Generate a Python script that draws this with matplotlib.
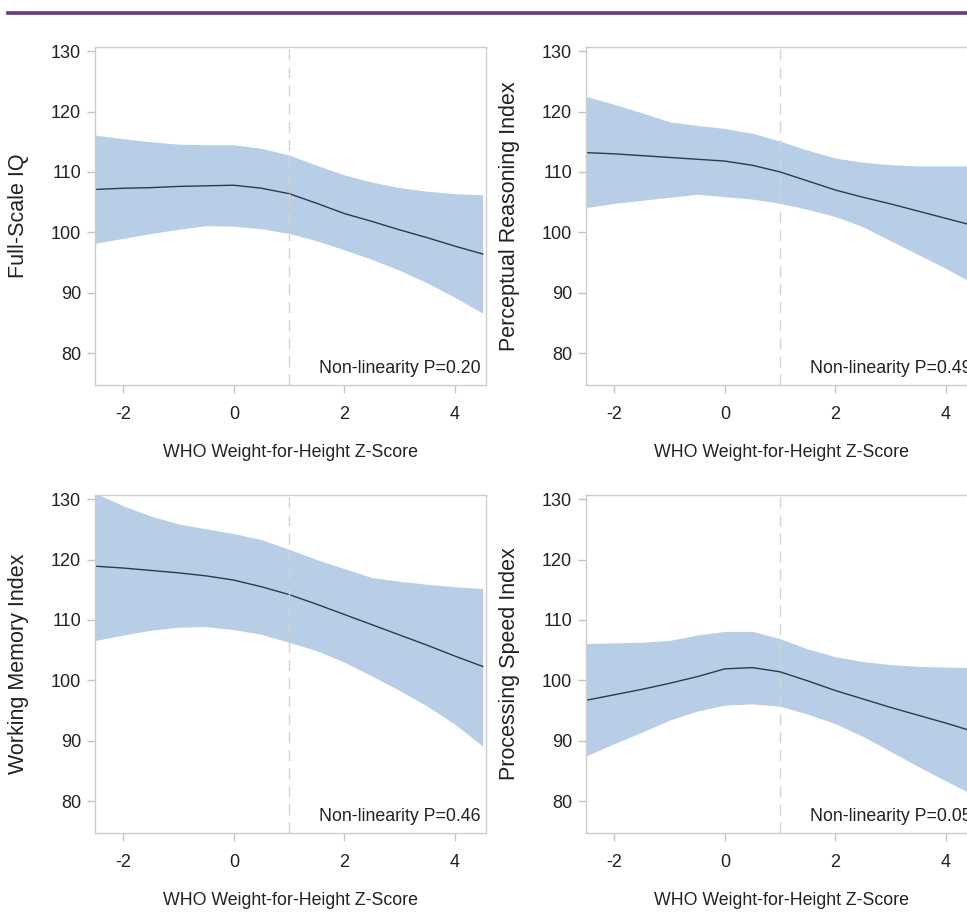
import matplotlib
matplotlib.use('Agg')
import matplotlib.pyplot as plt
from matplotlib.lines import Line2D

plt.rcParams['font.family'] = ['Liberation Sans', 'DejaVu Sans']
plt.rcParams['axes.unicode_minus'] = False

# WHO weight-for-height z-score grid
z = [-2.5, -2, -1.5, -1, -0.5, 0, 0.5, 1, 1.5, 2, 2.5, 3, 3.5, 4, 4.5]

fsiq_est = [107.1, 107.3, 107.4, 107.6, 107.7, 107.8, 107.3, 106.4, 104.8, 103.1, 101.8, 100.4, 99.1, 97.7, 96.4]
fsiq_hi = [116.1, 115.5, 115.0, 114.6, 114.5, 114.5, 113.9, 112.8, 111.1, 109.5, 108.3, 107.4, 106.8, 106.4, 106.2]
fsiq_lo = [98.2, 99.0, 99.8, 100.5, 101.1, 101.0, 100.6, 99.8, 98.6, 97.1, 95.5, 93.7, 91.6, 89.2, 86.6]

pri_est = [113.2, 113.0, 112.7, 112.4, 112.1, 111.8, 111.1, 110.0, 108.5, 107.0, 105.8, 104.7, 103.5, 102.3, 101.1]
pri_hi = [122.5, 121.2, 119.8, 118.3, 117.7, 117.2, 116.4, 115.1, 113.6, 112.3, 111.6, 111.2, 111.0, 111.0, 111.0]
pri_lo = [104.1, 104.8, 105.3, 105.8, 106.3, 105.9, 105.5, 104.8, 103.8, 102.6, 100.9, 98.6, 96.3, 94.0, 91.5]

wmi_est = [118.9, 118.6, 118.2, 117.8, 117.3, 116.6, 115.5, 114.2, 112.6, 110.9, 109.2, 107.5, 105.8, 104.0, 102.3]
wmi_hi = [131.0, 128.9, 127.2, 125.9, 125.1, 124.3, 123.3, 121.7, 120.0, 118.5, 117.0, 116.4, 115.9, 115.5, 115.2]
wmi_lo = [106.6, 107.5, 108.3, 108.8, 108.9, 108.4, 107.6, 106.3, 104.9, 103.0, 100.7, 98.3, 95.7, 92.7, 89.1]

psi_est = [96.7, 97.6, 98.5, 99.5, 100.6, 101.9, 102.1, 101.4, 99.9, 98.3, 96.9, 95.5, 94.2, 92.9, 91.5]
psi_hi = [106.1, 106.2, 106.3, 106.6, 107.5, 108.1, 108.1, 106.9, 105.2, 103.9, 103.1, 102.6, 102.3, 102.2, 102.1]
psi_lo = [87.5, 89.5, 91.4, 93.4, 94.9, 95.9, 96.1, 95.7, 94.4, 92.8, 90.7, 88.2, 85.7, 83.3, 81.0]

ylabels = ['Full-Scale IQ', 'Perceptual Reasoning Index', 'Working Memory Index', 'Processing Speed Index']
pvalues = ['0.20', '0.49', '0.46', '0.05']
xlabel = 'WHO Weight-for-Height Z-Score'

W, H = 967, 913
fig = plt.figure(figsize=(W / 100, H / 100), dpi=100)

# purple rule at the top
fig.add_artist(Line2D([8 / W, 1.0], [1 - 13.5 / H, 1 - 13.5 / H], color='#643a7a', lw=2.6))

# axes boxes in pixels: left, top
boxes = [(95, 47), (586, 47), (95, 495), (586, 495)]
aw, ah = 391, 338

panels = [
    (fsiq_est, fsiq_lo, fsiq_hi),
    (pri_est, pri_lo, pri_hi),
    (wmi_est, wmi_lo, wmi_hi),
    (psi_est, psi_lo, psi_hi),
]

for i, (est, lo, hi) in enumerate(panels):
    left, top = boxes[i]
    ax = fig.add_axes([left / W, 1 - (top + ah) / H, aw / W, ah / H])
    ax.fill_between(z, lo, hi, color='#b8cde6', lw=0)
    ax.plot(z, est, color='#2e3a4a', lw=1.0)
    ax.axvline(1, color='#d4d4d4', lw=1.0, dashes=(8, 5))
    ax.set_xlim(-2.51, 4.56)
    ax.set_ylim(74.7, 130.7)
    ax.set_xticks([-2, 0, 2, 4])
    ax.set_yticks([80, 90, 100, 110, 120, 130])
    for sp in ax.spines.values():
        sp.set_color('#cccccc')
        sp.set_linewidth(1.0)
    ax.tick_params(axis='both', direction='out', length=6, width=1, color='#c4c4c4',
                   labelsize=13, labelcolor='#222222')
    ax.tick_params(axis='x', pad=9)
    ax.tick_params(axis='y', pad=4)
    ax.set_ylabel(ylabels[i], fontsize=15.5, color='#222222')
    ax.yaxis.set_label_coords(-0.17, 0.5)
    ax.set_xlabel(xlabel, fontsize=12.8, color='#222222')
    ax.xaxis.set_label_coords(0.5, -0.175)
    ax.text(0.985, 0.025, 'Non-linearity P=' + pvalues[i], transform=ax.transAxes,
            ha='right', va='bottom', fontsize=12.8, color='#222222')

fig.savefig('out.png', dpi=100)
